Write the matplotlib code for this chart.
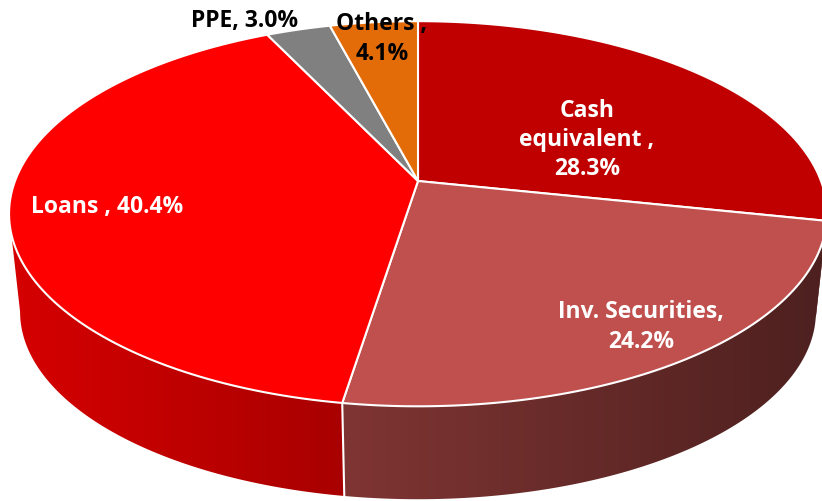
import numpy as np
import matplotlib.pyplot as plt
from matplotlib.colors import to_rgb
from matplotlib.patches import Polygon

# data
categories = ['Cash equivalent', 'Inv. Securities', 'Loans', 'PPE', 'Others']
values = [28.3, 24.2, 40.4, 3.0, 4.1]
label_texts = ['Cash\nequivalent ,\n28.3%', 'Inv. Securities,\n24.2%',
               'Loans , 40.4%', 'PPE, 3.0%', 'Others ,\n4.1%']
colors = ['#C00000', '#C0504D', '#FF0000', '#808080', '#E36C09']
text_colors = ['white', 'white', 'white', 'black', 'black']

# layout (pixels)
label_xy = [(587, 140), (641, 327), (107, 207), (245, 21), (382, 39)]
CX, CY = 418, 182          # apex of the pie on screen
A, B, P = 403, 187, 0.17   # half width, half height, perspective
DEPTH, SHRINK = 99, 0.973  # bottom face offset and scale


def top(theta):
	"""point on the top rim, theta in degrees clockwise from the back"""
	t = np.radians(theta)
	u, v = np.sin(t), -np.cos(t)
	w = 1 - P * v
	return CX + A * u / w, CY + B * v / w


def bottom(theta):
	x, y = top(theta)
	return CX + SHRINK * (x - CX), CY + DEPTH + SHRINK * (y - CY)


def main():
	fig = plt.figure(figsize=(8.22, 5.02), dpi=100)
	ax = fig.add_axes([0, 0, 1, 1])
	ax.set_xlim(0, 822)
	ax.set_ylim(502, 0)
	ax.axis('off')

	edges = np.concatenate([[0], np.cumsum(values)]) / sum(values) * 360
	# part of the wall seen from the front
	vis_lo = np.degrees(np.arccos(-P))
	vis_hi = 360 - vis_lo

	# horizontal shading factor for the walls
	gx = np.linspace(0, 822, 400)
	shade = np.clip(0.62 - 0.22 * (gx - CX) / 409, 0, 1)

	# side walls
	for i, c in enumerate(colors):
		a0, a1 = max(edges[i], vis_lo), min(edges[i + 1], vis_hi)
		if a0 >= a1:
			continue
		ts = np.linspace(a0, a1, 200)
		xt, yt = top(ts)
		xb, yb = bottom(ts[::-1])
		wall = Polygon(list(zip(xt, yt)) + list(zip(xb, yb)), closed=True,
		               facecolor='none', edgecolor='none')
		ax.add_patch(wall)
		img = np.array(to_rgb(c))[None, None, :] * shade[None, :, None]
		im = ax.imshow(np.repeat(img, 2, axis=0), extent=(0, 822, 502, 0),
		               aspect='auto', interpolation='bilinear', zorder=1)
		im.set_clip_path(wall)
		# white divider where two slices meet on the wall
		if vis_lo + 5 < edges[i + 1] < vis_hi - 5:
			x0, y0 = top(edges[i + 1])
			x1, y1 = bottom(edges[i + 1])
			ax.plot([x0, x1], [y0, y1], color='white', lw=1.5, zorder=1.5)

	# top faces
	for i, c in enumerate(colors):
		ts = np.linspace(edges[i], edges[i + 1], 120)
		xs, ys = top(ts)
		pts = [(CX, CY)] + list(zip(xs, ys))
		ax.add_patch(Polygon(pts, closed=True, facecolor=c, edgecolor='white',
		                     lw=1.5, joinstyle='round', zorder=2))

	for txt, (x, y), tc in zip(label_texts, label_xy, text_colors):
		ax.text(x, y, txt, ha='center', va='center', fontsize=16.5, fontweight='bold',
		        family=['Open Sans', 'DejaVu Sans'], color=tc, linespacing=1.3, zorder=3)

	ax.set_xlim(0, 822)
	ax.set_ylim(502, 0)
	fig.savefig('out.png', dpi=100)


if __name__ == "__main__":
	main()
